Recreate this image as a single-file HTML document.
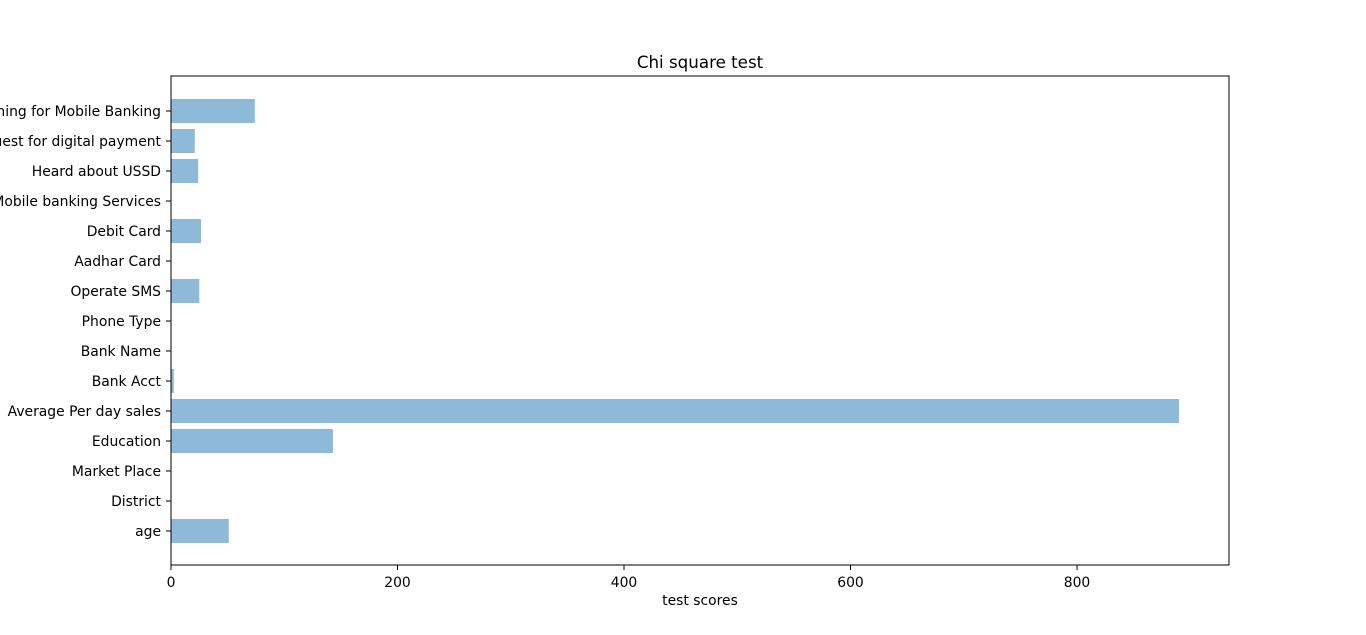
<!DOCTYPE html>
<html><head><meta charset="utf-8"><style>
html,body{margin:0;padding:0;background:#fff;width:1366px;height:635px;overflow:hidden}
svg text{font-family:"DejaVu Sans","Liberation Sans",sans-serif;font-size:13.9px;fill:#000}
</style></head><body>
<svg id="chart" width="1366" height="635">
<text x="700" y="68" text-anchor="middle" style="font-size:16.7px">Chi square test</text>
<g id="bars"></g>
<g id="yticks"></g>
<g id="xticks"></g>
<rect x="171" y="76" width="1058" height="489" fill="none" stroke="#000" stroke-width="1"/>
<text x="700" y="605" text-anchor="middle">test scores</text>
</svg>
<script>
const categories=["Training for Mobile Banking","Request for digital payment","Heard about USSD","Use Mobile banking Services","Debit Card","Aadhar Card","Operate SMS","Phone Type","Bank Name","Bank Acct","Average Per day sales","Education","Market Place","District","age"];
const scores=[74,21,24,0,26.5,0,25,0,0,2.5,890,143,0,0,51];
const xTickValues=[0,200,400,600,800];
const ns="http://www.w3.org/2000/svg";
const x0=171,pxPerUnit=(397.5-171)/200;
function xs(v){return x0+v*pxPerUnit;}
function ys(i){return 111+i*30;}
const bars=document.getElementById('bars'),yt=document.getElementById('yticks'),xt=document.getElementById('xticks');
categories.forEach((c,i)=>{
  const r=document.createElementNS(ns,'rect');
  r.setAttribute('x',xs(0));r.setAttribute('y',ys(i)-12);
  r.setAttribute('width',Math.max(0,xs(scores[i])-xs(0)));r.setAttribute('height',24);
  r.setAttribute('fill','#8fb9d9');
  
  
  bars.appendChild(r);
  const l=document.createElementNS(ns,'line');
  l.setAttribute('x1',166);l.setAttribute('x2',171);l.setAttribute('y1',ys(i));l.setAttribute('y2',ys(i));l.setAttribute('stroke','#000');
  yt.appendChild(l);
  const t=document.createElementNS(ns,'text');
  t.setAttribute('x',161);t.setAttribute('y',ys(i)+5);t.setAttribute('text-anchor','end');
  t.textContent=c;
  
  
  yt.appendChild(t);
});
xTickValues.forEach(v=>{
  const l=document.createElementNS(ns,'line');
  l.setAttribute('x1',xs(v));l.setAttribute('x2',xs(v));l.setAttribute('y1',565);l.setAttribute('y2',570);l.setAttribute('stroke','#000');
  xt.appendChild(l);
  const t=document.createElementNS(ns,'text');
  t.setAttribute('x',xs(v));t.setAttribute('y',587);t.setAttribute('text-anchor','middle');
  t.textContent=v;
  
  
  xt.appendChild(t);
});
</script>
</body></html>
